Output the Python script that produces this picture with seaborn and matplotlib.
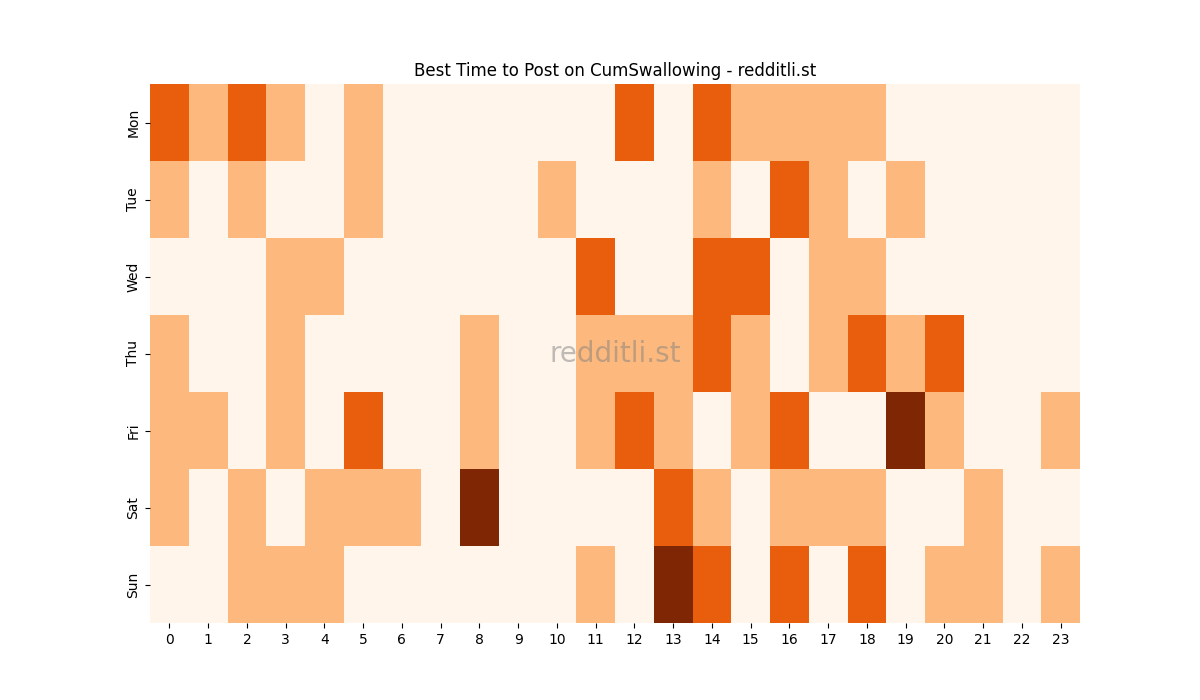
import numpy as np
import seaborn as sns
import matplotlib.pyplot as plt

days = ["Mon", "Tue", "Wed", "Thu", "Fri", "Sat", "Sun"]
hours = list(range(24))

mon = [2, 1, 2, 1, 0, 1, 0, 0, 0, 0, 0, 0, 2, 0, 2, 1, 1, 1, 1, 0, 0, 0, 0, 0]
tue = [1, 0, 1, 0, 0, 1, 0, 0, 0, 0, 1, 0, 0, 0, 1, 0, 2, 1, 0, 1, 0, 0, 0, 0]
wed = [0, 0, 0, 1, 1, 0, 0, 0, 0, 0, 0, 2, 0, 0, 2, 2, 0, 1, 1, 0, 0, 0, 0, 0]
thu = [1, 0, 0, 1, 0, 0, 0, 0, 1, 0, 0, 1, 1, 1, 2, 1, 0, 1, 2, 1, 2, 0, 0, 0]
fri = [1, 1, 0, 1, 0, 2, 0, 0, 1, 0, 0, 1, 2, 1, 0, 1, 2, 0, 0, 3, 1, 0, 0, 1]
sat = [1, 0, 1, 0, 1, 1, 1, 0, 3, 0, 0, 0, 0, 2, 1, 0, 1, 1, 1, 0, 0, 1, 0, 0]
sun = [0, 0, 1, 1, 1, 0, 0, 0, 0, 0, 0, 1, 0, 3, 2, 0, 2, 0, 2, 0, 1, 1, 0, 1]

grid = np.array([mon, tue, wed, thu, fri, sat, sun])

fig, ax = plt.subplots(figsize=(12, 7))
sns.heatmap(grid, cmap="Oranges", vmin=0, vmax=3, cbar=False,
            xticklabels=hours, yticklabels=days, ax=ax)
ax.set_title("Best Time to Post on CumSwallowing - redditli.st")
ax.text(0.5, 0.5, "redditli.st", transform=ax.transAxes, fontsize=20,
        color="gray", alpha=0.5, ha="center", va="center")
plt.savefig("out.png", dpi=100)
